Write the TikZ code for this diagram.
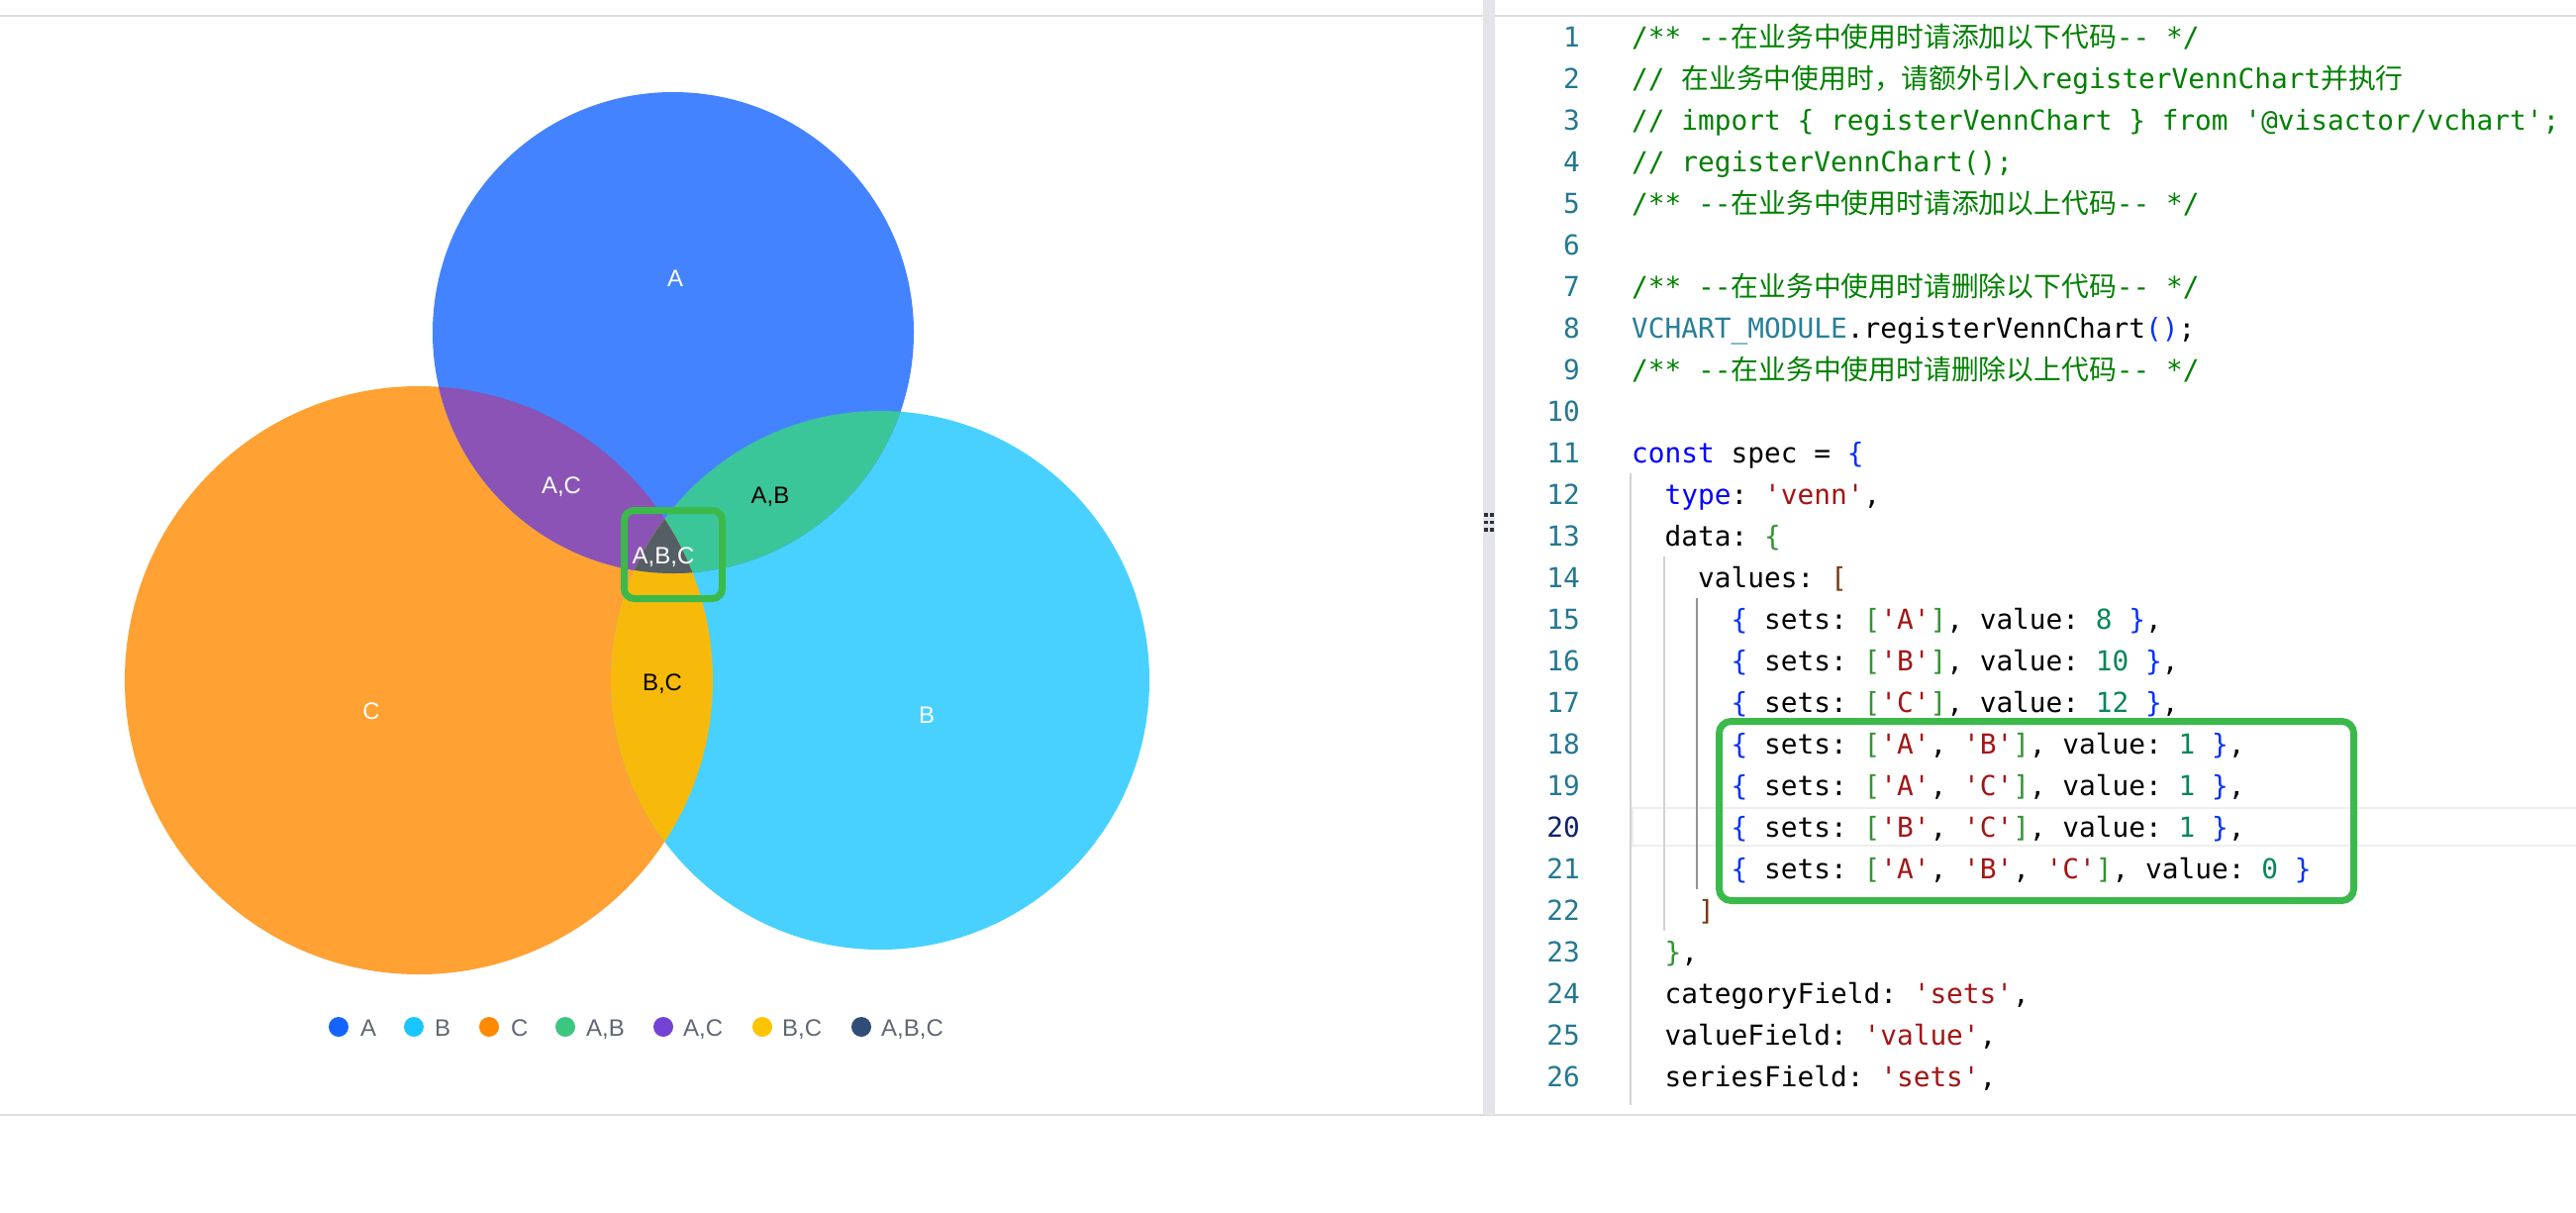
\documentclass[tikz,border=0pt]{standalone}
\usepackage{fontspec}
\setmainfont{Liberation Sans}
\setmonofont{DejaVu Sans Mono}
\newfontfamily\cjk{Noto Sans CJK SC}
\usetikzlibrary{positioning}

\definecolor{vennA}{HTML}{4483FF}
\definecolor{vennB}{HTML}{48D1FF}
\definecolor{vennC}{HTML}{FFA133}
\definecolor{vennAB}{HTML}{3BC69A}
\definecolor{vennAC}{HTML}{8A53B5}
\definecolor{vennBC}{HTML}{F8BA0A}
\definecolor{vennABC}{HTML}{555E64}
\definecolor{legA}{HTML}{1664FF}
\definecolor{legB}{HTML}{1AC6FF}
\definecolor{legC}{HTML}{FF8A00}
\definecolor{legAB}{HTML}{3CC780}
\definecolor{legAC}{HTML}{7442D4}
\definecolor{legBC}{HTML}{FFC400}
\definecolor{legABC}{HTML}{304D77}
\definecolor{legendtext}{HTML}{606773}
\definecolor{framegray}{HTML}{DCDDE2}
\definecolor{splitter}{HTML}{E3E4EA}
\definecolor{grip}{HTML}{2E3038}
\definecolor{markgreen}{HTML}{3CB94B}
\definecolor{comment}{HTML}{008000}
\definecolor{lineno}{HTML}{237893}
\definecolor{linenoactive}{HTML}{0B216F}
\definecolor{keyword}{HTML}{0000FF}
\definecolor{strred}{HTML}{A31515}
\definecolor{numgreen}{HTML}{098658}
\definecolor{constteal}{HTML}{267F99}
\definecolor{braceone}{HTML}{0431FA}
\definecolor{bracetwo}{HTML}{319331}
\definecolor{bracethree}{HTML}{7B3814}
\definecolor{guide}{HTML}{D3D3D3}
\definecolor{guideactive}{HTML}{939393}
\definecolor{curline}{HTML}{EEEEEE}

\newcommand{\braceA}[1]{\textcolor{braceone}{#1}}
\newcommand{\braceB}[1]{\textcolor{bracetwo}{#1}}
\newcommand{\braceC}[1]{\textcolor{bracethree}{#1}}
\newcommand{\codestr}[1]{\textcolor{strred}{#1}}
\newcommand{\codenum}[1]{\textcolor{numgreen}{#1}}
\newcommand{\circA}{(680,336) circle[radius=243pt]}
\newcommand{\circB}{(889,687) circle[radius=272pt]}
\newcommand{\circC}{(423,687) circle[radius=297pt]}

\begin{document}
\begin{tikzpicture}[
  x=1pt, y=-1pt,
  vlabel/.style={anchor=base, inner sep=0pt, font=\fontsize{24}{28}\selectfont},
  legtext/.style={anchor=base west, inner sep=0pt, text=legendtext, font=\fontsize{24}{28}\selectfont},
  code/.style={anchor=base west, inner sep=0pt, font=\fontsize{27.8}{42}\selectfont\ttfamily},
  lnum/.style={anchor=base east, inner sep=0pt, text=lineno, font=\fontsize{27.8}{42}\selectfont\ttfamily},
  guideline/.style={guide, line width=1.8pt},
  markbox/.style={draw=markgreen, line width=7pt, rounded corners=10pt}
]
\useasboundingbox[fill=white] (0,0) rectangle (2602,1224);

% frame of the two panels
\fill[framegray] (0,15) rectangle (1498,17);
\fill[framegray] (1510,15) rectangle (2602,17);
\fill[framegray] (0,1125) rectangle (2602,1127);
\fill[splitter] (1498,0) rectangle (1510,1126);
\foreach \gy in {520,527.5,535}
  \foreach \gx in {1501,1507}
    \fill[grip] (\gx-1.7,\gy-1.7) rectangle (\gx+1.7,\gy+1.7);

% venn circles
\fill[vennC] \circC;
\fill[vennB] \circB;
\fill[vennA] \circA;
\begin{scope}
  \clip \circA;
  \fill[vennAC] \circC;
\end{scope}
\begin{scope}
  \clip \circA;
  \fill[vennAB] \circB;
\end{scope}
\begin{scope}
  \clip \circB;
  \fill[vennBC] \circC;
\end{scope}
\begin{scope}
  \clip \circA;
  \clip \circB;
  \fill[vennABC] \circC;
\end{scope}

\node[vlabel, text=white] (lA) at (682,289) {A};
\node[vlabel, text=white] (lAC) at (567,498) {A,C};
\node[vlabel, text=black] (lAB) at (778,508) {A,B};
\node[vlabel, text=white] (lABC) at (670,569) {A,B,C};
\node[vlabel, text=black] (lBC) at (669,697) {B,C};
\node[vlabel, text=white] (lC) at (375,726) {C};
\node[vlabel, text=white] (lB) at (936,730) {B};

\draw[markbox] (630.5,515.5) rectangle (729.5,604.5);

% legend
\fill[legA] (342,1037) circle (10pt);
\fill[legB] (418,1037) circle (10pt);
\fill[legC] (494,1037) circle (10pt);
\fill[legAB] (571,1037) circle (10pt);
\fill[legAC] (670,1037) circle (10pt);
\fill[legBC] (770,1037) circle (10pt);
\fill[legABC] (870,1037) circle (10pt);
\node[legtext] (tA) at (364,1046) {A};
\node[legtext] (tB) at (439,1046) {B};
\node[legtext] (tC) at (516,1046) {C};
\node[legtext] (tAB) at (592,1046) {A,B};
\node[legtext] (tAC) at (690,1046) {A,C};
\node[legtext] (tBC) at (790,1046) {B,C};
\node[legtext] (tABC) at (890,1046) {A,B,C};

% editor: current line and indent guides
\draw[curline, line width=2.5pt] (1649,816) rectangle (2606,854);
\draw[guideline] (1647,478) -- (1647,1116);
\draw[guideline] (1681,562) -- (1681,940);
\draw[guideline, guideactive] (1714,604) -- (1714,898);

\foreach \n in {1,...,19,21,22,...,26}
  \node[lnum] (n\n) at (1596,{47+(\n-1)*42}) {\n};
\node[lnum, text=linenoactive] (n20) at (1596,845) {20};

\node[code, text=comment] (code1) at (1648,47) {/** --{\cjk 在业务中使用时请添加以下代码}-- */};
\node[code, text=comment] (code2) at (1648,89) {// {\cjk 在业务中使用时，请额外引入}registerVennChart{\cjk 并执行}};
\node[code, text=comment] (code3) at (1648,131) {// import \{ registerVennChart \} from '@visactor/vchart';};
\node[code, text=comment] (code4) at (1648,173) {// registerVennChart();};
\node[code, text=comment] (code5) at (1648,215) {/** --{\cjk 在业务中使用时请添加以上代码}-- */};
\node[code, text=comment] (code7) at (1648,299) {/** --{\cjk 在业务中使用时请删除以下代码}-- */};
\node[code] (code8) at (1648,341) {\textcolor{constteal}{VCHART\_MODULE}.registerVennChart\braceA{()};};
\node[code, text=comment] (code9) at (1648,383) {/** --{\cjk 在业务中使用时请删除以上代码}-- */};
\node[code] (code11) at (1648,467) {\textcolor{keyword}{const} spec = \braceA{\{}};
\node[code] (code12) at (1681.5,509) {\textcolor{keyword}{type}: \codestr{'venn'},};
\node[code] (code13) at (1681.5,551) {data: \braceB{\{}};
\node[code] (code14) at (1715,593) {values: \braceC{[}};
\node[code] (code15) at (1748.5,635) {\braceA{\{} sets: \braceB{[}\codestr{'A'}\braceB{]}, value: \codenum{8} \braceA{\}},};
\node[code] (code16) at (1748.5,677) {\braceA{\{} sets: \braceB{[}\codestr{'B'}\braceB{]}, value: \codenum{10} \braceA{\}},};
\node[code] (code17) at (1748.5,719) {\braceA{\{} sets: \braceB{[}\codestr{'C'}\braceB{]}, value: \codenum{12} \braceA{\}},};
\node[code] (code18) at (1748.5,761) {\braceA{\{} sets: \braceB{[}\codestr{'A'}, \codestr{'B'}\braceB{]}, value: \codenum{1} \braceA{\}},};
\node[code] (code19) at (1748.5,803) {\braceA{\{} sets: \braceB{[}\codestr{'A'}, \codestr{'C'}\braceB{]}, value: \codenum{1} \braceA{\}},};
\node[code] (code20) at (1748.5,845) {\braceA{\{} sets: \braceB{[}\codestr{'B'}, \codestr{'C'}\braceB{]}, value: \codenum{1} \braceA{\}},};
\node[code] (code21) at (1748.5,887) {\braceA{\{} sets: \braceB{[}\codestr{'A'}, \codestr{'B'}, \codestr{'C'}\braceB{]}, value: \codenum{0} \braceA{\}}};
\node[code] (code22) at (1715,929) {\braceC{]}};
\node[code] (code23) at (1681.5,971) {\braceB{\}},};
\node[code] (code24) at (1681.5,1013) {categoryField: \codestr{'sets'},};
\node[code] (code25) at (1681.5,1055) {valueField: \codestr{'value'},};
\node[code] (code26) at (1681.5,1097) {seriesField: \codestr{'sets'},};

\draw[markbox, rounded corners=12pt] (1736.5,728.5) rectangle (2377.5,909.5);
\end{tikzpicture}
\end{document}
